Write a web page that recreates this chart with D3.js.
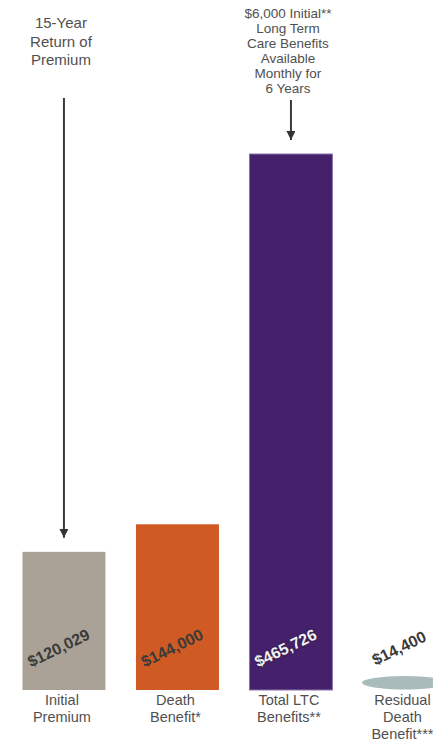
<!DOCTYPE html>
<html>
<head>
<meta charset="utf-8">
<script src="https://cdn.jsdelivr.net/npm/d3@7"></script>
<style>
  body { margin: 0; background: #fff; }
  text { font-family: "Liberation Sans", Arial, sans-serif; }
</style>
</head>
<body>
<svg id="chart" width="433" height="743"></svg>
<script>
// data
let categories = ['Initial Premium', 'Death Benefit', 'Total LTC Benefits', 'Residual Death Benefit'];
let values = [120029, 144000, 465726, 14400];
let valueLabels = ['$120,029', '$144,000', '$465,726', '$14,400'];
let categoryLines = [
    ['Initial', 'Premium'],
    ['Death', 'Benefit*'],
    ['Total LTC', 'Benefits**'],
    ['Residual', 'Death', 'Benefit***']
];
let notes = [
    { cat: 'Initial Premium', lines: ['15-Year', 'Return of', 'Premium'] },
    { cat: 'Total LTC Benefits', lines: ['$6,000 Initial**', 'Long Term', 'Care Benefits', 'Available', 'Monthly for', '6 Years'] }
];

let colors = ['#aba297', '#cf5a24', '#45206b', '#a9bcbb'];

window.onload = function() {
    drawChart();
}

function drawChart () {
    let svg = d3.select('#chart');

    let x = d3.scaleBand()
        .domain(categories)
        .range([7.2, 461.2])
        .paddingInner(0.269)
        .paddingOuter(0.1345);

    let y = d3.scaleLinear()
        .domain([0, d3.max(values)])
        .range([690, 154]);

    let data = categories.map((c, i) => ({ cat: c, value: values[i], label: valueLabels[i], color: colors[i], lines: categoryLines[i] }));

    // bars (last one is drawn as a flat disc)
    svg.selectAll('rect.bar')
        .data(data.slice(0, 3))
        .enter()
        .append('rect')
        .attr('class', 'bar')
        .attr('x', d => x(d.cat))
        .attr('y', d => y(d.value))
        .attr('width', x.bandwidth())
        .attr('height', d => y(0) - y(d.value))
        .attr('fill', d => d.color);

    svg.selectAll('rect.bar')
        .filter(d => d.cat === 'Total LTC Benefits')
        .attr('stroke', '#8e74ab')
        .attr('stroke-width', 1);

    let last = data[3];
    svg.append('ellipse')
        .attr('cx', x(last.cat) + x.bandwidth() / 2)
        .attr('cy', (y(last.value) + y(0)) / 2 + 1)
        .attr('rx', x.bandwidth() / 2 + 1)
        .attr('ry', (y(0) - y(last.value)) / 2 - 1.5)
        .attr('fill', last.color);

    // value labels
    svg.selectAll('text.value')
        .data(data)
        .enter()
        .append('text')
        .attr('class', 'value')
        .attr('transform', d => 'translate(' + (x(d.cat) + x.bandwidth() / 2 - 3) + ',' + (y(0) - 37) + ') rotate(-26)')
        .attr('text-anchor', 'middle')
        .attr('font-size', 16)
        .attr('font-weight', 'bold')
        .attr('fill', d => d.cat === 'Total LTC Benefits' ? '#f4f0f8' : '#3a3a3a')
        .style('text-shadow', d => d.cat === 'Total LTC Benefits' ? '0 0 2px #222' : 'none')
        .text(d => d.label);

    // category labels
    let cats = svg.selectAll('text.cat')
        .data(data)
        .enter()
        .append('text')
        .attr('class', 'cat')
        .attr('y', y(0) + 15)
        .attr('text-anchor', 'middle')
        .attr('font-size', 14.5)
        .attr('fill', '#505050');
    cats.selectAll('tspan')
        .data(d => d.lines.map(l => ({ l: l, cx: x(d.cat) + x.bandwidth() / 2 - 2 })))
        .enter()
        .append('tspan')
        .attr('x', d => d.cx)
        .attr('dy', (d, i) => i === 0 ? 0 : 17)
        .text(d => d.l);

    // annotations with arrows
    svg.append('defs')
        .append('marker')
        .attr('id', 'head')
        .attr('viewBox', '0 0 10 10')
        .attr('refX', 10)
        .attr('refY', 5)
        .attr('markerWidth', 4.5)
        .attr('markerHeight', 4.5)
        .attr('orient', 'auto')
        .append('path')
        .attr('d', 'M0 0 L10 5 L0 10 z')
        .attr('fill', '#333');

    notes.forEach((n, k) => {
        let cx = x(n.cat) + x.bandwidth() / 2;
        let v = values[categories.indexOf(n.cat)];
        let fs = k === 0 ? 15 : 13.5;
        let lh = k === 0 ? 18.5 : 15;
        let top = k === 0 ? 28 : 18;
        let t = svg.append('text')
            .attr('text-anchor', 'middle')
            .attr('font-size', fs)
            .attr('fill', '#505050')
            .attr('y', top);
        n.lines.forEach((l, i) => {
            t.append('tspan')
                .attr('x', cx - 3)
                .attr('dy', i === 0 ? 0 : lh)
                .text(l);
        });
        svg.append('line')
            .attr('x1', cx)
            .attr('x2', cx)
            .attr('y1', k === 0 ? 98 : 100)
            .attr('y2', y(v) - 14)
            .attr('stroke', '#3a3a3a')
            .attr('stroke-width', 2)
            .attr('marker-end', 'url(#head)');
    });
}
</script>
</body>
</html>
